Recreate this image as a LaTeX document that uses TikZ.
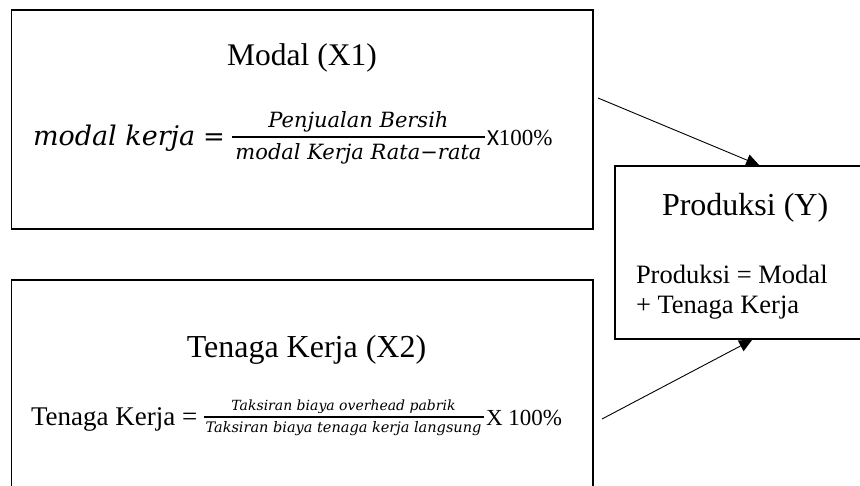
\documentclass[tikz,border=0pt]{standalone}
\usepackage{fontspec}
\setmainfont{Liberation Serif}
\newfontfamily\cmfont{DejaVu Serif}
\newfontfamily\calib{Carlito}
\usetikzlibrary{arrows.meta}
\tikzset{
  box/.style={draw, line width=1.6pt, rectangle, inner sep=0pt},
  arr/.style={line width=0.9pt, -{Triangle[length=13pt,width=12pt]}},
  txt/.style={inner sep=0pt, outer sep=0pt},
  fracbar/.style={line width=1.5pt}
}
\begin{document}
\begin{tikzpicture}[x=1pt,y=-1pt]
\useasboundingbox (0,0) rectangle (860,485);
% boxes
\node[box, minimum width=581.5pt, minimum height=219pt] (boxA) at (302.25,119.5) {};
\node[box, minimum width=581.5pt, minimum height=230pt] (boxB) at (302.25,395) {};
\node[box, minimum width=250pt, minimum height=173pt] (prod) at (740,252.5) {};
% box A texts
\node[txt, anchor=base] (titA) at (302,65) {\fontsize{31.5}{36}\selectfont Modal (X1)};
\node[txt, anchor=base west] (mk) at (33,145) {\fontsize{27}{30}\selectfont\cmfont\itshape modal kerja};
\node[txt, anchor=base west] (eqA) at (203,145) {\fontsize{26}{30}\selectfont\cmfont =};
\draw[fracbar] (232,137) -- (485,137);
\node[txt, anchor=base] (numA) at (358.5,127) {\fontsize{21}{24}\selectfont\cmfont\itshape Penjualan Bersih};
\node[txt, anchor=base] (denA) at (358.5,159) {\fontsize{21}{24}\selectfont\cmfont\itshape modal Kerja Rata−rata};
\node[txt, anchor=base west] (xA) at (487,145) {\fontsize{23}{26}\selectfont{\calib X}100\%};
% box B texts
\node[txt, anchor=base] (titB) at (306.5,357) {\fontsize{32}{36}\selectfont Tenaga Kerja (X2)};
\node[txt, anchor=base west] (tk) at (31,425) {\fontsize{27}{30}\selectfont Tenaga Kerja =};
\draw[fracbar] (204,417) -- (484,417);
\node[txt, anchor=base] (numB) at (343.5,410) {\fontsize{14}{17}\selectfont\cmfont\itshape Taksiran biaya overhead pabrik};
\node[txt, anchor=base] (denB) at (343.5,432) {\fontsize{14.5}{17}\selectfont\cmfont\itshape Taksiran biaya tenaga kerja langsung};
\node[txt, anchor=base west] (xB) at (486,425) {\fontsize{23}{26}\selectfont X 100\%};
% production box texts
\node[txt, anchor=base west] (titY) at (662,215) {\fontsize{32}{36}\selectfont Produksi (Y)};
\node[txt, anchor=base west] (pl1) at (636,283) {\fontsize{26.5}{30}\selectfont Produksi = Modal};
\node[txt, anchor=base west] (pl2) at (636,313) {\fontsize{26.5}{30}\selectfont + Tenaga Kerja};
% connectors
\coordinate (s1) at (598,98);
\coordinate (s2) at (602,419);
\draw[arr] (s1) -- ([xshift=145pt]prod.north west);
\draw[arr] (s2) -- ([xshift=138pt]prod.south west);
\end{tikzpicture}
\end{document}
